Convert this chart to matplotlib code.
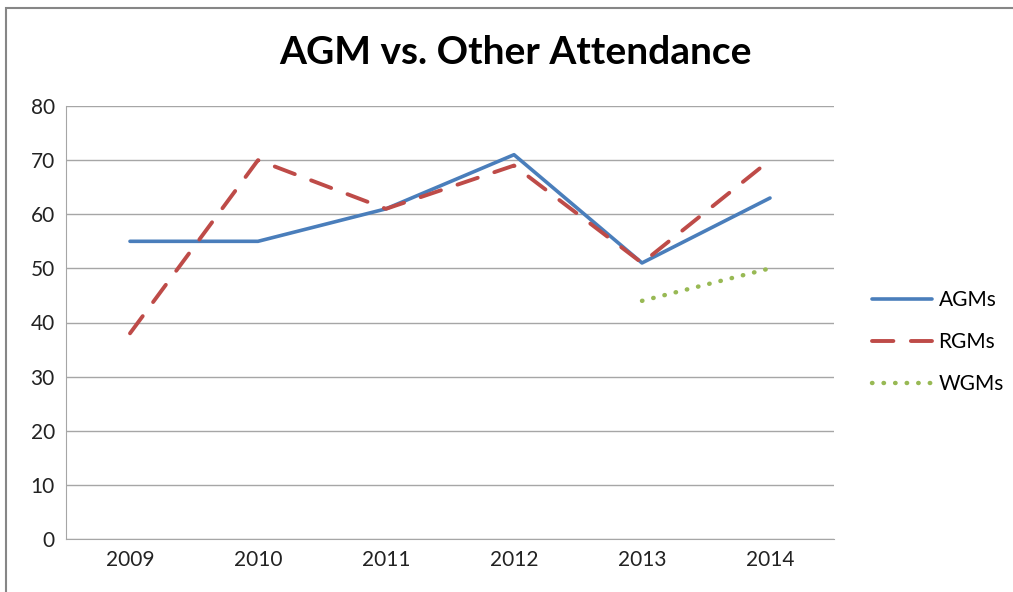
import numpy as np
from matplotlib import pyplot as plt
from matplotlib.patches import Rectangle

years = ["2009", "2010", "2011", "2012", "2013", "2014"]
agms = [55, 55, 61, 71, 51, 63]
rgms = [38, 70, 61, 69, 51, 70]
wgms = [np.nan, np.nan, np.nan, np.nan, 44, 50]

plt.rcParams['font.family'] = ['Lato', 'DejaVu Sans']

W, H = 1013, 592
fig = plt.figure(figsize=(W/100, H/100), dpi=100)

# outer chart frame like Excel
fig.patches.append(Rectangle((6/W, -0.05), 1.1, 1 - 8/H + 0.05, transform=fig.transFigure,
                             fill=False, edgecolor='#868686', linewidth=1.5))

ax = fig.add_axes([66/W, 1 - 539/H, (834-66)/W, (539-106)/H])
x = np.arange(len(years))

ax.plot(x, agms, color='#4a7ebb', lw=2.6, label='AGMs', solid_capstyle='round')
ax.plot(x, rgms, color='#be4b48', lw=2.8, label='RGMs', dashes=(5.5, 4.5), dash_capstyle='round')
ax.plot(x, wgms, color='#98b954', lw=3.2, label='WGMs', dashes=(0.1, 2.5), dash_capstyle='round')

ax.set_xlim(-0.5, len(years) - 0.5)
ax.set_ylim(0, 80)
ax.set_yticks(range(0, 81, 10))
ax.set_xticks(x)
ax.set_xticklabels(years)
ax.tick_params(length=0, labelsize=15, colors='#222222', pad=8)
ax.tick_params(axis='y', pad=8)
ax.grid(axis='y', color='#a6a6a6', lw=1)
ax.set_axisbelow(True)
for s in ['top', 'right']:
    ax.spines[s].set_visible(False)
ax.spines['left'].set_color('#a6a6a6')
ax.spines['bottom'].set_color('#a6a6a6')

fig.text(515/W, 1 - 52/H, "AGM vs. Other Attendance", ha='center', va='center',
         fontsize=28, fontweight='bold')

ax.legend(loc='center left', bbox_to_anchor=(1.025, 0.455), frameon=False, fontsize=15,
          handlelength=2.9, handletextpad=0.3, labelspacing=1.05)

fig.savefig('out.png', dpi=100)
